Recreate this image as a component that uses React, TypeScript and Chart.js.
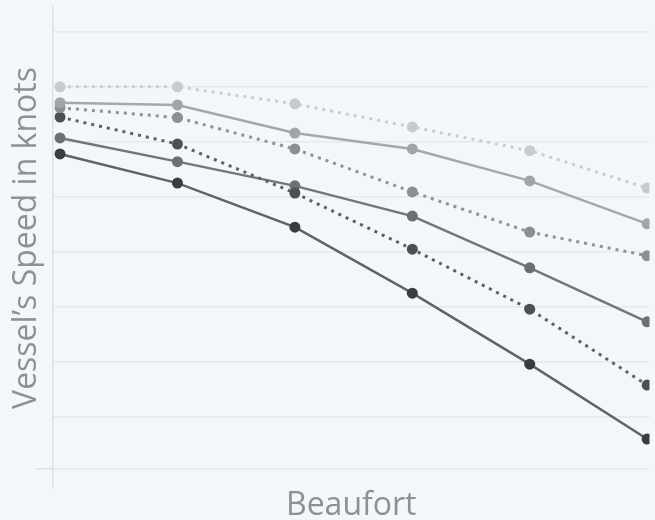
import React, { useEffect, useRef } from "react";
import { Chart, registerables } from "chart.js";

Chart.register(...registerables);

const beaufort = [0, 1, 2, 3, 4, 5];
const seriesA = [7.0, 7.0, 6.69, 6.27, 5.84, 5.16];
const seriesB = [6.71, 6.67, 6.16, 5.87, 5.29, 4.51];
const seriesC = [6.62, 6.44, 5.87, 5.09, 4.36, 3.93];
const seriesD = [6.45, 5.96, 5.07, 4.05, 2.96, 1.58];
const seriesE = [6.07, 5.64, 5.2, 4.65, 3.71, 2.73];
const seriesF = [5.78, 5.25, 4.45, 3.25, 1.96, 0.6];

const gridColor = "#e5e8ec";
const axisColor = "#dcdfe3";
const textColor = "#8d9196";

function toPoints(vals: number[]) {
  return beaufort.map((b, i) => ({ x: b, y: vals[i] }));
}

export default function App() {
  const ref = useRef<HTMLCanvasElement | null>(null);

  useEffect(() => {
    if (!ref.current) return;
    const mk = (
      label: string,
      vals: number[],
      line: string,
      point: string,
      dotted: boolean
    ) => ({
      label,
      data: toPoints(vals),
      borderColor: line,
      backgroundColor: point,
      pointBackgroundColor: point,
      pointBorderColor: point,
      pointRadius: 5.5,
      pointBorderWidth: 0,
      borderWidth: dotted ? 3 : 2.5,
      borderDash: dotted ? [3, 5] : [],
      tension: 0,
      fill: false,
    });

    const chart = new Chart(ref.current, {
      type: "line",
      data: {
        datasets: [
          mk("A", seriesA, "#c9cdd3", "#c6cad1", true),
          mk("B", seriesB, "#a4a8ae", "#a1a5ab", false),
          mk("C", seriesC, "#8f9298", "#8b8e94", true),
          mk("D", seriesD, "#5d6068", "#4c4f58", true),
          mk("E", seriesE, "#737679", "#6c6f74", false),
          mk("F", seriesF, "#606368", "#3a3c42", false),
        ],
      },
      options: {
        animation: false,
        responsive: false,
        maintainAspectRatio: false,
        layout: { padding: { top: 7, left: 0, right: 0, bottom: 0 } },
        plugins: {
          legend: { display: false },
          tooltip: { enabled: false },
        },
        scales: {
          x: {
            type: "linear",
            min: -0.06,
            max: 5.02,
            ticks: { display: false, stepSize: 1 },
            grid: {
              color: "rgba(0,0,0,0)",
              tickLength: 20,
              tickColor: (ctx: any) => (ctx.index === 0 ? axisColor : "rgba(0,0,0,0)"),
              lineWidth: 1.5,
            },
            border: { display: false },
            title: {
              display: true,
              text: "Beaufort",
              color: textColor,
              font: { family: "'Open Sans'", size: 32, lineHeight: 1 },
              padding: { top: 0, bottom: -2 },
            },
            afterFit: (s: any) => {
              s.height = 51;
            },
          },
          y: {
            min: 0.055,
            max: 8.45,
            ticks: { display: false, stepSize: 1 },
            grid: {
              color: (ctx: any) =>
                ctx.tick && ctx.tick.value > 8.2 ? "rgba(0,0,0,0)" : gridColor,
              lineWidth: 1.5,
              tickLength: 17,
              tickColor: (ctx: any) => (ctx.index === 0 ? axisColor : "rgba(0,0,0,0)"),
            },
            border: { display: true, color: axisColor, width: 1.5 },
            title: {
              display: true,
              text: "Vessel’s Speed in knots",
              color: textColor,
              font: { family: "'Open Sans'", size: 32, lineHeight: 1 },
              padding: { top: 11, bottom: 0 },
            },
            afterFit: (s: any) => {
              s.width = 53;
            },
          },
        },
      },
    });
    return () => chart.destroy();
  }, []);

  return (
    <div
      style={{
        position: "fixed",
        left: 0,
        top: 0,
        width: 655,
        height: 520,
        background: "#f4f7fa",
      }}
    >
      <canvas ref={ref} width={655} height={520} style={{ width: 655, height: 520 }} />
    </div>
  );
}
